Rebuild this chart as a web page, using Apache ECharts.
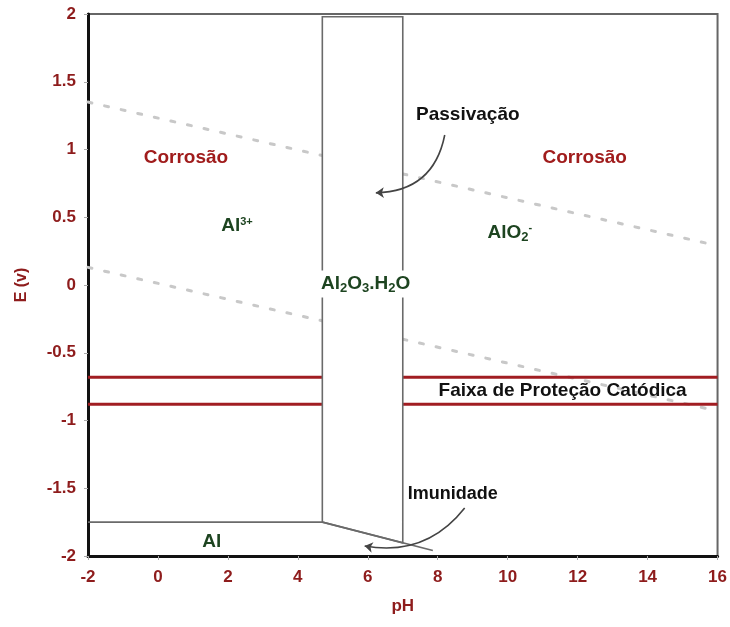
<!DOCTYPE html>
<html><head><meta charset="utf-8">
<script src="https://cdn.jsdelivr.net/npm/echarts@6/dist/echarts.min.js"></script>
<style>html,body{margin:0;padding:0;background:#fff}#c{width:730px;height:627px}</style>
</head><body><div id="c"></div>
<script>
// ---- data ----
const xTicks = [-2, 0, 2, 4, 6, 8, 10, 12, 14, 16];
const yTicks = [-2, -1.5, -1, -0.5, 0, 0.5, 1, 1.5, 2];
const waterUpper = [[-2, 1.35], [16, 0.29]];
const waterLower = [[-2, 0.13], [16, -0.93]];
const protectTop = [[-2, -0.68], [16, -0.68]];
const protectBottom = [[-2, -0.88], [16, -0.88]];
const passivePoly = [[4.7, -1.75], [4.7, 1.98], [7.0, 1.98], [7.0, -1.903]];
const alTop = [[-2, -1.75], [4.7, -1.75]];
const alDiagonal = [[4.7, -1.75], [7.86, -1.96]];
const arrowPass = [[8.2, 1.107], [6.23, 0.68]];
const arrowImun = [[8.77, -1.646], [5.91, -1.926]];
const labelPts = {
  corrL: [0.8, 0.937], corrR: [12.2, 0.937], al3: [2.26, 0.435], alo2: [10.06, 0.384],
  oxide: [5.94, 0.007], faixa: [11.57, -0.78], pass: [8.86, 1.255], imun: [8.43, -1.54], al: [1.54, -1.897]
};

const RED = '#8e1c1c', GREEN = '#1d4420', FONT = '"Liberation Sans", Arial, sans-serif';
function lbl(key, text, color, size, rich, bg) {
  return { value: labelPts[key], label: { show: true, position: 'inside', formatter: text, color: color,
    opacity: 1, fontSize: size, fontWeight: 'bold', fontFamily: FONT, rich: rich || {},
    backgroundColor: bg || 'transparent', padding: bg ? [3, 2] : 0 } };
}
const richChem = {
  n: { fontSize: 19, fontWeight: 'bold', color: GREEN, fontFamily: FONT },
  sub: { fontSize: 13, fontWeight: 'bold', color: GREEN, fontFamily: FONT, verticalAlign: 'bottom', padding: [8, 0, 0, 0] },
  sup: { fontSize: 11, fontWeight: 'bold', color: GREEN, fontFamily: FONT, verticalAlign: 'top', padding: [0, 0, 9, 0] }
};

const chart = echarts.init(document.getElementById('c'));
chart.setOption({
  animation: false,
  grid: { left: 88, right: 12, top: 14, bottom: 71, show: true, borderColor: '#666', borderWidth: 2 },
  xAxis: {
    type: 'value', min: -2, max: 16, interval: 2,
    name: 'pH', nameLocation: 'middle', nameGap: 42,
    nameTextStyle: { color: RED, fontSize: 17, fontWeight: 'bold', fontFamily: FONT },
    axisLine: { show: true, onZero: false, lineStyle: { color: '#111', width: 3 } },
    axisTick: { show: true, length: 4, lineStyle: { color: '#aaa' } },
    axisLabel: { color: RED, fontSize: 17, fontWeight: 'bold', fontFamily: FONT, margin: 13,
      formatter: v => xTicks.includes(v) ? String(v) : '' },
    splitLine: { show: false }
  },
  yAxis: {
    type: 'value', min: -2, max: 2, interval: 0.5,
    name: 'E (v)', nameLocation: 'middle', nameGap: 58, nameRotate: 90,
    nameTextStyle: { color: RED, fontSize: 16, fontWeight: 'bold', fontFamily: FONT },
    axisLine: { show: true, onZero: false, lineStyle: { color: '#111', width: 3 } },
    axisTick: { show: true, length: 4, lineStyle: { color: '#aaa' } },
    axisLabel: { color: RED, fontSize: 17, fontWeight: 'bold', fontFamily: FONT, margin: 12,
      formatter: v => yTicks.includes(v) ? String(v) : '' },
    splitLine: { show: false }
  },
  series: [
    { type: 'line', data: waterUpper, symbol: 'none', z: 1, lineStyle: { color: '#c8c8c8', width: 3, type: [4, 13], cap: 'round' } },
    { type: 'line', data: waterLower, symbol: 'none', z: 1, lineStyle: { color: '#c8c8c8', width: 3, type: [4, 13], cap: 'round' } },
    { type: 'line', data: protectTop, symbol: 'none', z: 2, lineStyle: { color: '#a11d22', width: 3 } },
    { type: 'line', data: protectBottom, symbol: 'none', z: 2, lineStyle: { color: '#a11d22', width: 3 } },
    { type: 'custom', z: 3, data: [[passivePoly[0][0], passivePoly[0][1]]],
      renderItem: (params, api) => ({ type: 'polygon', shape: { points: passivePoly.map(p => api.coord(p)) },
        style: { fill: '#fff', stroke: '#6a6a6a', lineWidth: 1.6 } }) },
    { type: 'line', data: alTop, symbol: 'none', z: 4, lineStyle: { color: '#6a6a6a', width: 1.6 } },
    { type: 'line', data: alDiagonal, symbol: 'none', z: 4, lineStyle: { color: '#6a6a6a', width: 1.6 } },
    { type: 'lines', coordinateSystem: 'cartesian2d', z: 5, symbol: ['none', 'arrow'], symbolSize: 8,
      lineStyle: { color: '#444', width: 1.6, curveness: 0.4, opacity: 1 },
      data: [{ coords: arrowPass }, { coords: arrowImun, lineStyle: { curveness: 0.3 } }] },
    { type: 'scatter', z: 6, symbolSize: 0, silent: true, itemStyle: { opacity: 1, color: 'transparent' },
      data: [
        lbl('corrL', 'Corrosão', '#a01c1c', 19),
        lbl('corrR', 'Corrosão', '#a01c1c', 19),
        lbl('al3', '{n|Al}{sup|3+}', GREEN, 19, richChem),
        lbl('alo2', '{n|AlO}{sub|2}{sup|-}', GREEN, 19, richChem),
        lbl('oxide', '{n|Al}{sub|2}{n|O}{sub|3}{n|.H}{sub|2}{n|O}', GREEN, 19, richChem, '#fff'),
        lbl('faixa', 'Faixa de Proteção Catódica', '#111', 19),
        lbl('pass', 'Passivação', '#111', 19),
        lbl('imun', 'Imunidade', '#111', 18),
        lbl('al', 'Al', GREEN, 19)
      ] }
  ]
});
</script></body></html>
